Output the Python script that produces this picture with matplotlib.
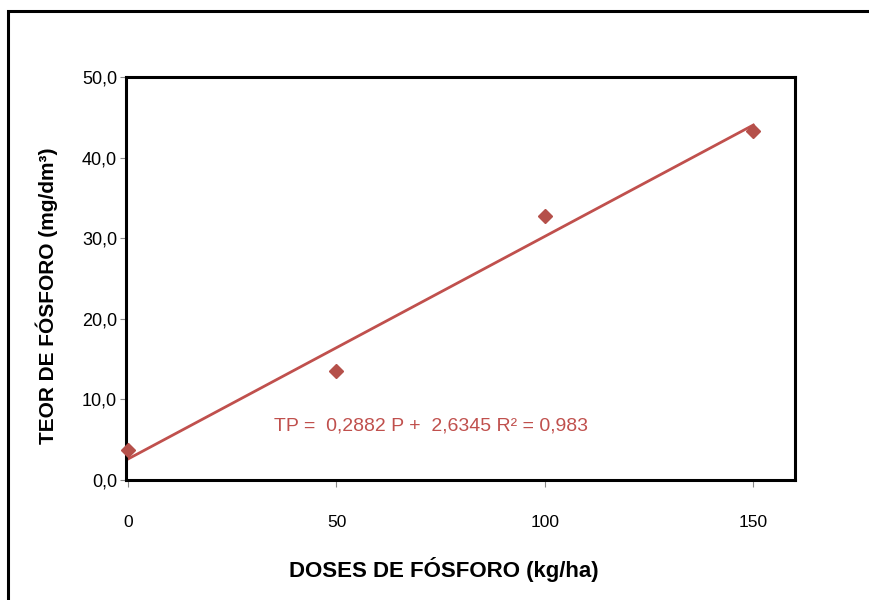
import numpy as np
import matplotlib
matplotlib.use("Agg")
import matplotlib.pyplot as plt
from matplotlib.patches import Rectangle

# doses of phosphorus (kg/ha) and measured phosphorus content (mg/dm3)
doses = [0, 50, 100, 150]
teor = [3.7, 13.5, 32.8, 43.3]
x_ticks = [0, 50, 100, 150]
y_ticks = [0, 10, 20, 30, 40, 50]
equation = "TP =  0,2882 P +  2,6345 R² = 0,983"

plt.rcParams["font.family"] = ["Liberation Sans", "DejaVu Sans"]
red = "#c0504d"

fig = plt.figure(figsize=(8.7, 6.0), dpi=100)
# outer chart frame, cut by the right and bottom edges
fig.patches.append(Rectangle((8 / 870, -0.1), 1.2, 1 - 11 / 600 + 0.1,
                             transform=fig.transFigure, fill=False,
                             edgecolor="black", linewidth=2.2))
ax = fig.add_axes([126 / 870, 0.2, 669 / 870, 403 / 600])

# linear trendline fitted on the points
slope, intercept = np.polyfit(doses, teor, 1)
xs = np.array([doses[0], doses[-1]])
ax.plot(xs, slope * xs + intercept, color=red, linewidth=2, zorder=2)
ax.plot(doses, teor, linestyle="none", marker="D", markersize=7,
        color="#b5504a", zorder=3, clip_on=False)

ax.text(35, 6.7, equation, color=red, fontsize=14,
        ha="left", va="center")

ax.set_xlim(-0.5, 160)
ax.set_ylim(0, 50)
ax.set_xticks(x_ticks)
ax.set_xticklabels([str(v) for v in x_ticks])
ax.set_yticks(y_ticks)
ax.set_yticklabels([f"{v:.1f}".replace(".", ",") for v in y_ticks])
ax.tick_params(axis="x", direction="out", length=5, width=0.8, color="#888888",
               pad=20, labelsize=12.5)
ax.tick_params(axis="y", direction="out", length=4.5, width=0.8, color="#888888",
               pad=2, labelsize=13)
for spine in ax.spines.values():
    spine.set_linewidth(2.2)
    spine.set_color("black")

fig.text(444 / 870, 1 - 569 / 600, "DOSES DE FÓSFORO (kg/ha)",
         ha="center", va="center", fontsize=16, fontweight="bold")
fig.text(47 / 870, 1 - 296 / 600, "TEOR DE FÓSFORO (mg/dm³)",
         ha="center", va="center", rotation=90, fontsize=15, fontweight="bold")

fig.savefig("out.png", dpi=100, facecolor="white")
